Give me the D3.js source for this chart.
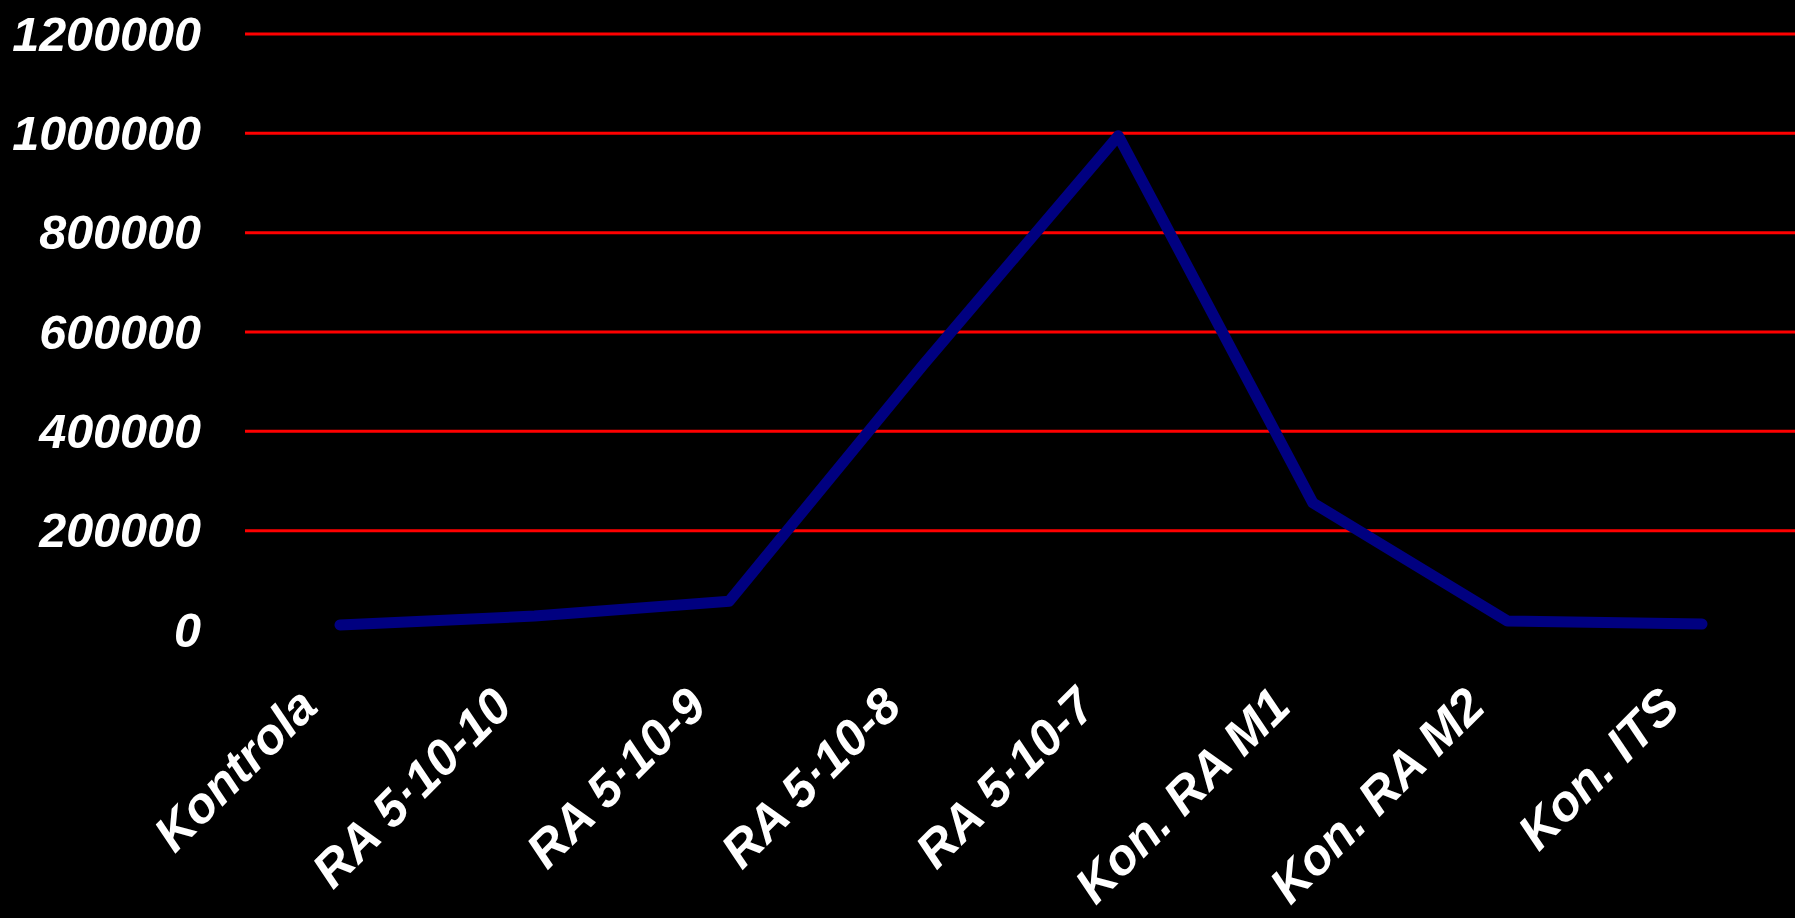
<!DOCTYPE html>
<html>
<head>
<meta charset="utf-8">
<script src="https://cdn.jsdelivr.net/npm/d3@7"></script>
<style>
  html, body { margin: 0; padding: 0; background: #000; }
  svg { display: block; }
  text { font-family: "Liberation Sans", Arial, sans-serif; font-weight: bold; font-style: italic; fill: #fff; }
</style>
</head>
<body>
<svg id="chart" width="1795" height="918"></svg>
<script>
const categories = ["Kontrola", "RA 5·10-10", "RA 5·10-9", "RA 5·10-8", "RA 5·10-7", "Kon. RA M1", "Kon. RA M2", "Kon. ITS"];
const values = [10000, 28000, 58000, 535000, 995000, 256000, 18000, 12000];
const yTicks = [0, 200000, 400000, 600000, 800000, 1000000, 1200000];

const svg = d3.select("#chart");
const W = 1795, H = 918;
svg.append("rect").attr("width", W).attr("height", H).attr("fill", "#000");

const x = d3.scalePoint().domain(categories).range([242.7, 1799.3]).padding(0.5);
const y = d3.scaleLinear().domain([0, 1200000]).range([630, 34]);

// gridlines
svg.append("g").selectAll("line")
  .data(yTicks.filter(d => d > 0))
  .join("line")
  .attr("x1", 245).attr("x2", W)
  .attr("y1", d => y(d)).attr("y2", d => y(d))
  .attr("stroke", "#ff0000").attr("stroke-width", 3);

// y labels
const yAxis = d3.axisLeft(y).tickValues(yTicks).tickFormat(d3.format("d")).tickSize(0).tickPadding(0);
const gy = svg.append("g").attr("transform", "translate(201,0)").call(yAxis);
gy.select(".domain").remove();
gy.selectAll("text")
  .attr("font-size", 48.5)
  .attr("dy", "0.33em")
  .attr("fill", "#fff")
  .style("font-family", '"Liberation Sans", Arial, sans-serif')
  .style("font-weight", "bold").style("font-style", "italic");

// x labels
svg.append("g").selectAll("text")
  .data(categories)
  .join("text")
  .attr("font-size", 50)
  .attr("text-anchor", "end")
  .attr("transform", d => `translate(${x(d) - 20},709) rotate(-45)`)
  .text(d => d);

// line
const line = d3.line().x((d, i) => x(categories[i])).y(d => y(d));
svg.append("path")
  .datum(values)
  .attr("d", line)
  .attr("fill", "none")
  .attr("stroke", "#000080")
  .attr("stroke-width", 11)
  .attr("stroke-linejoin", "round")
  .attr("stroke-linecap", "round");
</script>
</body>
</html>
